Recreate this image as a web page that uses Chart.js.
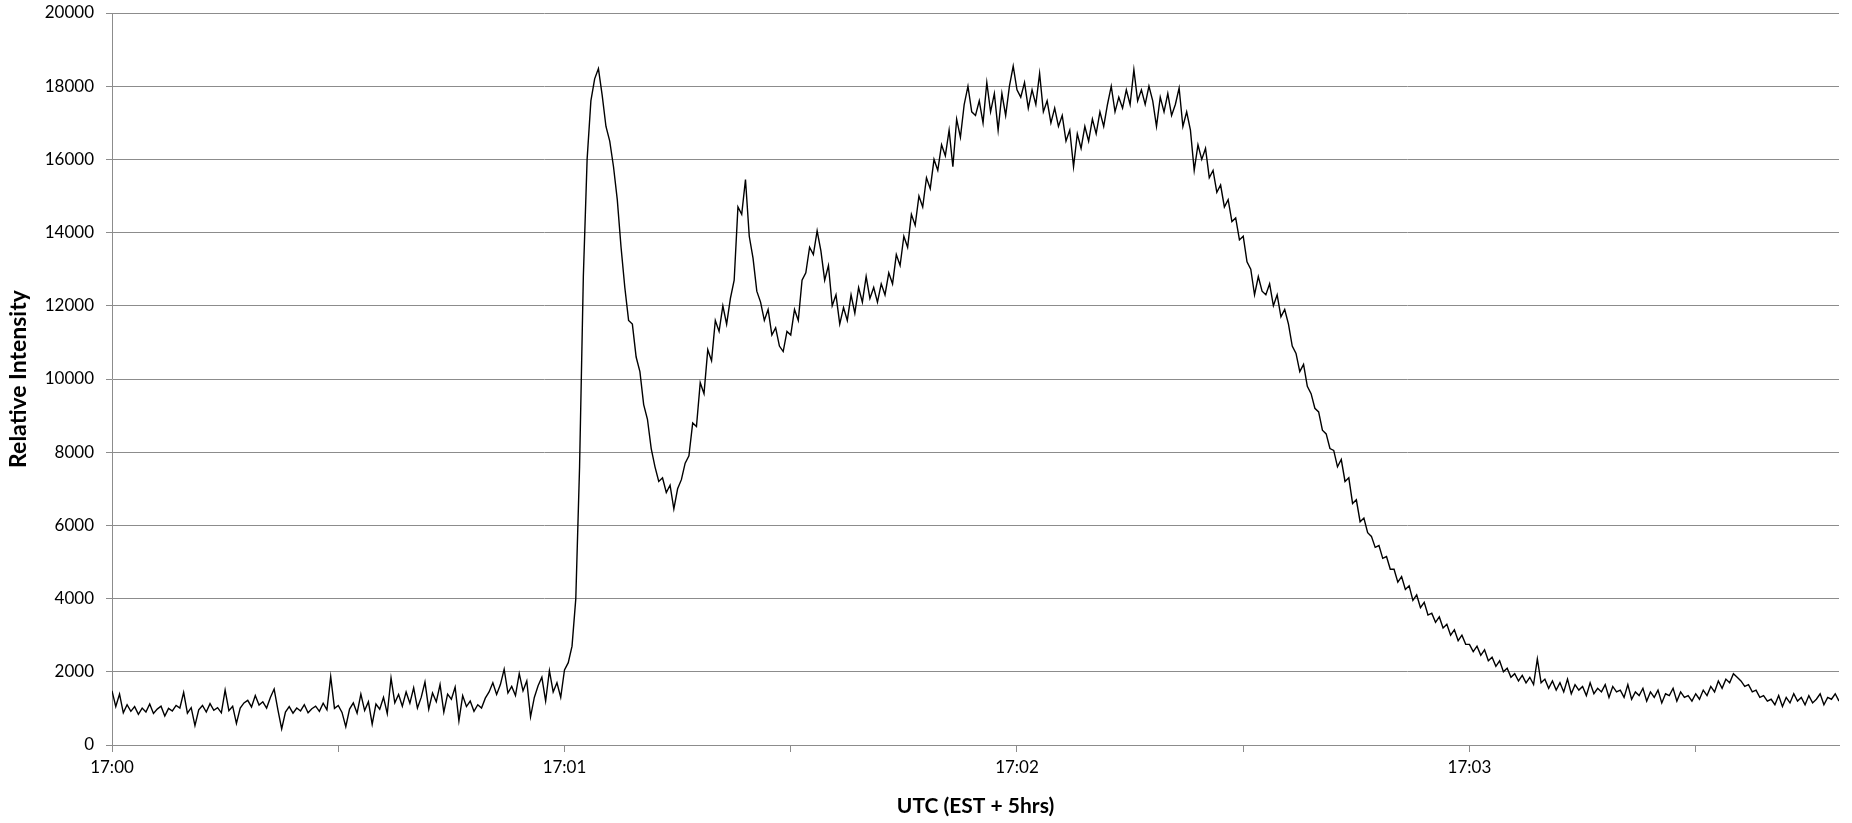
<!DOCTYPE html>
<html lang="en">
<head>
    <meta charset="UTF-8">
    <title>Relative Intensity vs UTC</title>
    <script src="https://cdn.jsdelivr.net/npm/chart.js"></script>
    <style>
        body {
            margin: 0;
            background: #ffffff;
        }
        .chart-box {
            width: 1852px;
            height: 823px;
        }
    </style>
</head>
<body>
    <div class="chart-box"><canvas id="intensityChart"></canvas></div>

    <script>
        // samples every half second, starting 17:00:00
        const sampleStep = 0.5;
        const minuteLabels = ['17:00', '17:01', '17:02', '17:03'];

        const minute0 = [
            1480, 1050, 1390, 880, 1100, 920, 1050, 840, 1010, 900, 1120, 860, 980, 1060, 790, 1000, 930, 1080, 1010, 1440,
            870, 1020, 530, 960, 1080, 900, 1130, 950, 1020, 880, 1500, 940, 1060, 590, 1010, 1150, 1220, 1040, 1350, 1090,
            1180, 1010, 1300, 1530, 960, 440, 900, 1050, 870, 1010, 930, 1100, 880, 990, 1060, 920, 1140, 960, 1870, 1000,
            1080, 890, 500, 980, 1150, 870, 1390, 940, 1180, 570, 1120, 980, 1300, 860, 1830, 1150, 1380, 1060, 1450, 1140,
            1560, 1010, 1300, 1720, 980, 1420, 1180, 1650, 900, 1390, 1250, 1580, 660, 1350, 1050, 1200, 920, 1100, 1010, 1280,
            1450, 1700, 1380, 1650, 2070, 1420, 1600, 1350, 1950, 1480, 1750, 770, 1300, 1620, 1850, 1200, 2030, 1450, 1700, 1300
        ];
        const minute1 = [
            2050, 2250, 2700, 4000, 7600, 12800, 16000, 17600, 18200, 18480, 17750, 16900, 16500, 15800, 14900, 13600, 12500, 11600, 11500, 10600,
            10200, 9300, 8900, 8100, 7600, 7200, 7300, 6900, 7100, 6450, 7000, 7250, 7700, 7900, 8800, 8700, 9900, 9600, 10800, 10500,
            11600, 11300, 12000, 11500, 12200, 12700, 14700, 14500, 15450, 13900, 13300, 12400, 12100, 11600, 11900, 11200, 11400, 10900, 10750, 11300,
            11200, 11900, 11600, 12700, 12900, 13600, 13400, 14050, 13500, 12700, 13100, 12000, 12300, 11500, 11950, 11600, 12300, 11800, 12500, 12100,
            12800, 12200, 12500, 12100, 12600, 12300, 12900, 12600, 13400, 13100, 13900, 13600, 14500, 14200, 15000, 14700, 15500, 15200, 16000, 15700,
            16400, 16100, 16800, 15800, 17100, 16600, 17500, 18000, 17300, 17200, 17600, 17000, 18100, 17300, 17800, 16800, 17800, 17200, 18000, 18550
        ];
        const minute2 = [
            17900, 17700, 18100, 17400, 17900, 17500, 18350, 17300, 17600, 17000, 17400, 16900, 17200, 16500, 16800, 15800, 16700, 16300, 16900, 16500,
            17100, 16700, 17300, 16900, 17500, 18000, 17300, 17700, 17400, 17900, 17500, 18450, 17600, 17900, 17500, 18000, 17600, 16900, 17700, 17300,
            17800, 17200, 17500, 17950, 16900, 17300, 16800, 15700, 16400, 16000, 16300, 15500, 15700, 15100, 15300, 14700, 14900, 14300, 14400, 13800,
            13900, 13200, 13000, 12300, 12800, 12400, 12300, 12600, 12000, 12300, 11700, 11900, 11500, 10900, 10700, 10200, 10400, 9800, 9600, 9200,
            9100, 8600, 8500, 8100, 8050, 7600, 7800, 7200, 7300, 6600, 6700, 6100, 6200, 5800, 5700, 5400, 5450, 5100, 5150, 4800,
            4800, 4450, 4600, 4250, 4350, 3950, 4100, 3750, 3900, 3550, 3600, 3350, 3500, 3200, 3300, 3000, 3150, 2850, 3000, 2750
        ];
        const minute3 = [
            2750, 2550, 2700, 2450, 2600, 2300, 2400, 2150, 2300, 2000, 2100, 1850, 1950, 1750, 1900, 1700, 1850, 1650, 2350, 1700,
            1800, 1550, 1750, 1500, 1700, 1450, 1800, 1400, 1650, 1500, 1600, 1350, 1700, 1400, 1550, 1450, 1650, 1300, 1600, 1450,
            1500, 1300, 1650, 1250, 1450, 1350, 1550, 1200, 1450, 1300, 1500, 1150, 1400, 1350, 1550, 1200, 1450, 1300, 1350, 1200,
            1400, 1250, 1500, 1350, 1600, 1450, 1750, 1550, 1800, 1700, 1950, 1850, 1750, 1600, 1650, 1450, 1500, 1300, 1350, 1200,
            1250, 1100, 1350, 1050, 1300, 1150, 1400, 1200, 1300, 1100, 1350, 1150, 1250, 1400, 1100, 1300, 1250, 1400, 1200
        ];

        const intensity = minute0.concat(minute1, minute2, minute3);
        const points = intensity.map((v, i) => ({ x: i * sampleStep, y: v }));
        const lastSecond = (intensity.length - 1) * sampleStep;

        const gridGray = '#8c8c8c';
        const fontFamily = 'Lato, "Liberation Sans", sans-serif';

        const ctx = document.getElementById('intensityChart').getContext('2d');
        new Chart(ctx, {
            type: 'line',
            data: {
                datasets: [{
                    data: points,
                    borderColor: '#000000',
                    borderWidth: 1.4,
                    pointRadius: 0,
                    tension: 0,
                    fill: false
                }]
            },
            options: {
                responsive: true,
                maintainAspectRatio: false,
                animation: false,
                layout: { padding: { top: 13, right: 13, left: 0, bottom: 0 } },
                plugins: {
                    legend: { display: false },
                    tooltip: { enabled: false }
                },
                scales: {
                    x: {
                        type: 'linear',
                        min: 0,
                        max: lastSecond,
                        afterBuildTicks: (scale) => {
                            scale.ticks = scale.ticks.filter(t => t.value % 30 === 0);
                        },
                        afterFit: (scale) => { scale.height = 78; },
                        ticks: {
                            stepSize: 30,
                            autoSkip: false,
                            maxRotation: 0,
                            padding: 5,
                            color: '#000000',
                            font: { family: fontFamily, size: 17 },
                            callback: (v) => (v % 60 === 0 ? minuteLabels[v / 60] : '')
                        },
                        grid: {
                            drawOnChartArea: false,
                            tickLength: 7,
                            color: gridGray
                        },
                        border: { color: gridGray },
                        title: {
                            display: true,
                            text: 'UTC (EST + 5hrs)',
                            color: '#000000',
                            font: { family: fontFamily, size: 21, weight: 'bold' },
                            padding: { top: 0, bottom: 4 }
                        }
                    },
                    y: {
                        min: 0,
                        max: 20000,
                        afterFit: (scale) => {
                            scale.width = 112;
                            scale.paddingTop = 0;
                            scale.paddingBottom = 0;
                        },
                        ticks: {
                            stepSize: 2000,
                            padding: 12,
                            color: '#000000',
                            font: { family: fontFamily, size: 17 },
                            callback: (v) => String(v)
                        },
                        grid: {
                            tickLength: 6,
                            color: gridGray
                        },
                        border: { color: gridGray },
                        title: {
                            display: true,
                            text: 'Relative Intensity',
                            color: '#000000',
                            font: { family: fontFamily, size: 23, weight: 'bold' },
                            padding: { top: 5, bottom: 0 }
                        }
                    }
                }
            }
        });
    </script>
</body>
</html>
